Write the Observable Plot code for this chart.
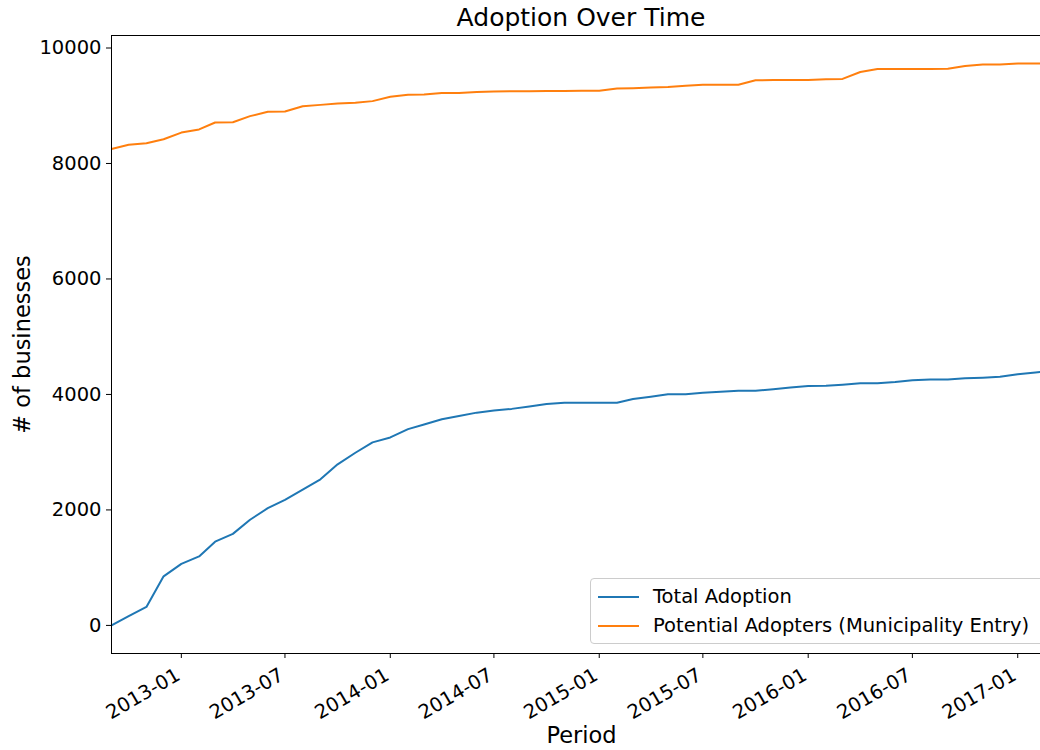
<!DOCTYPE html>
<html>
<head>
<meta charset="utf-8">
<script src="https://cdn.jsdelivr.net/npm/d3@7"></script>
<script src="https://cdn.jsdelivr.net/npm/@observablehq/plot@0.6"></script>
<style>
  html, body { margin: 0; padding: 0; background: white; }
  #fig { position: relative; width: 1040px; height: 750px; overflow: hidden; font-family: "DejaVu Sans", sans-serif; background: white; }
  #title { height: 34px; width: 940px; margin-left: 111px; text-align: center; font-size: 25px; line-height: 36px; color: #000; }
  #legend { position: absolute; left: 590px; top: 578px; width: 470px; height: 64px; border: 1px solid #cccccc; border-radius: 4px; background: rgba(255,255,255,0.8); font-size: 19.5px; color: #000; }
  .row { position: absolute; left: 0; height: 24px; }
  .swatch { position: absolute; left: 7px; width: 41px; height: 2px; }
  .lbl { position: absolute; left: 62px; white-space: nowrap; line-height: 24px; }
</style>
</head>
<body>
<div id="fig">
  <div id="title">Adoption Over Time</div>
  <div id="chart"></div>
  <div id="legend"></div>
</div>
<script>
// Monthly periods
const periods = [
  "2012-09","2012-10","2012-11","2012-12",
  "2013-01","2013-02","2013-03","2013-04","2013-05","2013-06","2013-07","2013-08","2013-09","2013-10","2013-11","2013-12",
  "2014-01","2014-02","2014-03","2014-04","2014-05","2014-06","2014-07","2014-08","2014-09","2014-10","2014-11","2014-12",
  "2015-01","2015-02","2015-03","2015-04","2015-05","2015-06","2015-07","2015-08","2015-09","2015-10","2015-11","2015-12",
  "2016-01","2016-02","2016-03","2016-04","2016-05","2016-06","2016-07","2016-08","2016-09","2016-10","2016-11","2016-12",
  "2017-01","2017-02","2017-03"
];
const totalAdoption = [
  0, 160, 320, 850,
  1065, 1195, 1450, 1585, 1830, 2030, 2175, 2350, 2530, 2790, 2990, 3170,
  3255, 3400, 3480, 3570, 3625, 3685, 3720, 3750, 3790, 3835, 3855, 3855,
  3855, 3855, 3920, 3960, 4005, 4005, 4030, 4045, 4065, 4065, 4090, 4120,
  4145, 4150, 4170, 4195, 4195, 4215, 4245, 4260, 4260, 4280, 4290, 4305,
  4350, 4380, 4410
];
const potentialAdopters = [
  8250, 8325, 8350, 8420,
  8535, 8590, 8710, 8715, 8820, 8895, 8900, 8990, 9015, 9040, 9050, 9080,
  9155, 9190, 9195, 9220, 9220, 9240, 9245, 9250, 9250, 9255, 9255, 9260,
  9260, 9300, 9305, 9315, 9325, 9345, 9365, 9365, 9365, 9440, 9445, 9445,
  9445, 9460, 9465, 9585, 9635, 9635, 9635, 9635, 9640, 9690, 9715, 9715,
  9730, 9730, 9730
];
const seriesNames = ["Total Adoption", "Potential Adopters (Municipality Entry)"];
const seriesColors = ["#1f77b4", "#ff7f0e"];
const yTicks = [0, 2000, 4000, 6000, 8000, 10000];
const xTickLabels = ["2013-01","2013-07","2014-01","2014-07","2015-01","2015-07","2016-01","2016-07","2017-01"];

const parse = s => new Date(s + "-01T00:00:00Z");
const data = periods.map((p, i) => ({date: parse(p), total: totalAdoption[i], potential: potentialAdopters[i]}));
const xTicks = xTickLabels.map(s => ({date: parse(s), label: s}));

const all = totalAdoption.concat(potentialAdopters);
const lo = d3.min(all), hi = d3.max(all), pad = (hi - lo) * 0.05;

const chart = Plot.plot({
  width: 1040,
  height: 716,
  marginTop: 1,
  marginBottom: 97,
  marginLeft: 111,
  marginRight: -11,
  style: {fontFamily: "DejaVu Sans, sans-serif", fontSize: "19.5px", color: "#000", background: "white"},
  x: {type: "utc"},
  y: {domain: [lo - pad, hi + pad]},
  marks: [
    Plot.line(data, {x: "date", y: "total", stroke: seriesColors[0], strokeWidth: 2, clip: true}),
    Plot.line(data, {x: "date", y: "potential", stroke: seriesColors[1], strokeWidth: 2, clip: true}),
    Plot.axisY({ticks: yTicks, tickFormat: d3.format("d"), tickSize: 5, tickPadding: 5, label: null, stroke: "#000"}),
    Plot.axisX({ticks: xTicks.map(d => d.date), tickFormat: () => "", tickSize: 5, label: null, stroke: "#000"}),
    Plot.text(xTicks, {x: "date", text: "label", frameAnchor: "bottom", dy: 20, dx: -3, rotate: -30, textAnchor: "end", lineAnchor: "middle", fontSize: 19.5, fill: "#000"}),
    Plot.frame({stroke: "#000", strokeWidth: 1}),
    Plot.text(["# of businesses"], {frameAnchor: "left", textAnchor: "middle", rotate: -90, dx: -89, fontSize: 22.5, fill: "#000"}),
    Plot.text(["Period"], {frameAnchor: "bottom", textAnchor: "middle", dy: 89, fontSize: 22.5, fill: "#000"})
  ]
});
document.getElementById("chart").appendChild(chart);

const legend = document.getElementById("legend");
seriesNames.forEach((name, i) => {
  const row = document.createElement("div");
  row.className = "row";
  row.style.top = (6 + i * 29) + "px";
  row.style.width = "100%";
  const sw = document.createElement("div");
  sw.className = "swatch";
  sw.style.background = seriesColors[i];
  sw.style.top = "11px";
  const lb = document.createElement("div");
  lb.className = "lbl";
  lb.textContent = name;
  row.appendChild(sw);
  row.appendChild(lb);
  legend.appendChild(row);
});
</script>
</body>
</html>
